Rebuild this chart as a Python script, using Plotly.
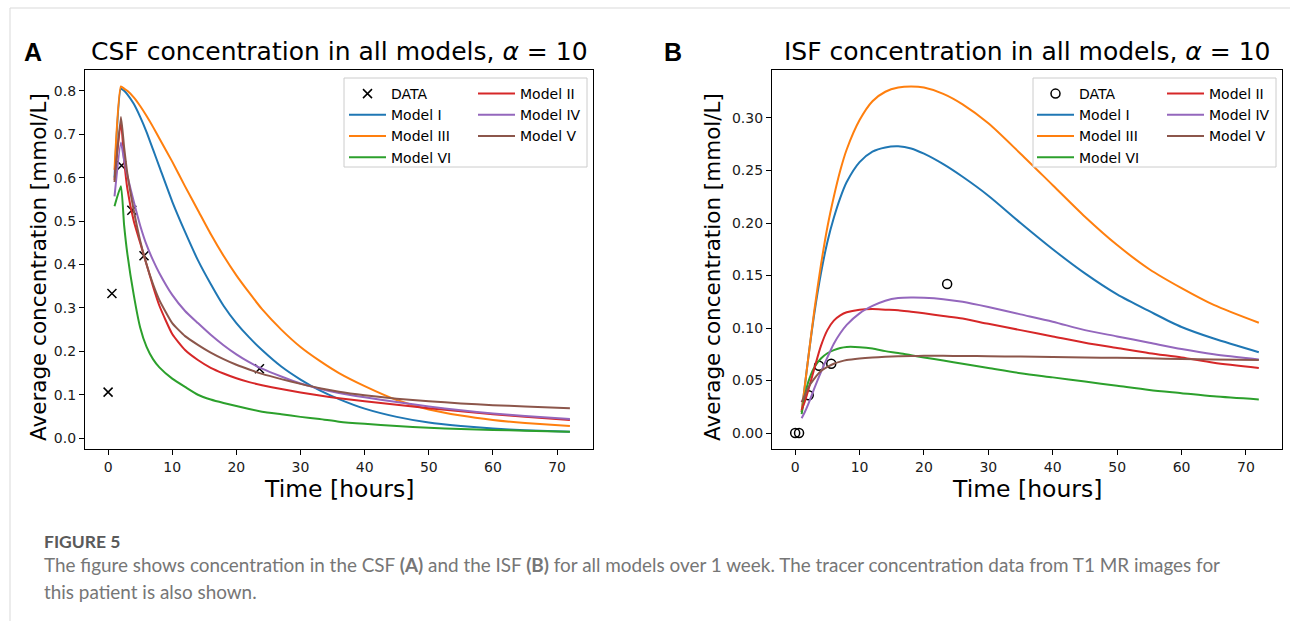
import plotly.graph_objects as go

W, H = 1290, 621

# ---------------- data ----------------
data_t = [0, 0.6, 2.1, 3.7, 5.6, 23.6]
csf_data = [0.106, 0.333, 0.628, 0.525, 0.420, 0.160]
isf_data = [0.0, 0.0, 0.036, 0.064, 0.066, 0.142]

tA = [1, 2, 2.5, 3, 4, 5, 6, 7, 8, 10, 12, 14, 16, 18, 20, 22, 24, 27, 30, 33, 36, 40, 45, 50, 55, 60, 65, 72]
csf_I   = [0.600, 0.805, 0.800, 0.792, 0.770, 0.740, 0.705, 0.665, 0.625, 0.545, 0.475, 0.410, 0.355, 0.305, 0.265, 0.232, 0.203, 0.165, 0.135, 0.110, 0.090, 0.068, 0.049, 0.036, 0.028, 0.022, 0.018, 0.015]
csf_III = [0.618, 0.810, 0.805, 0.800, 0.785, 0.765, 0.742, 0.717, 0.690, 0.637, 0.580, 0.525, 0.470, 0.420, 0.375, 0.335, 0.297, 0.250, 0.210, 0.178, 0.150, 0.120, 0.088, 0.066, 0.052, 0.042, 0.035, 0.028]
csf_VI  = [0.534, 0.580, 0.490, 0.425, 0.330, 0.255, 0.210, 0.182, 0.163, 0.137, 0.118, 0.100, 0.089, 0.081, 0.074, 0.067, 0.061, 0.055, 0.049, 0.044, 0.038, 0.033, 0.028, 0.024, 0.021, 0.019, 0.017, 0.015]
csf_II  = [0.595, 0.728, 0.640, 0.575, 0.500, 0.450, 0.400, 0.350, 0.305, 0.240, 0.203, 0.180, 0.162, 0.149, 0.138, 0.129, 0.122, 0.113, 0.105, 0.098, 0.092, 0.085, 0.077, 0.069, 0.062, 0.055, 0.049, 0.042]
csf_IV  = [0.557, 0.681, 0.640, 0.605, 0.545, 0.490, 0.445, 0.410, 0.380, 0.330, 0.293, 0.265, 0.238, 0.214, 0.193, 0.175, 0.160, 0.142, 0.126, 0.114, 0.104, 0.094, 0.083, 0.073, 0.064, 0.057, 0.051, 0.044]
csf_V   = [0.590, 0.740, 0.670, 0.610, 0.525, 0.455, 0.400, 0.355, 0.318, 0.265, 0.235, 0.215, 0.197, 0.182, 0.169, 0.158, 0.148, 0.136, 0.125, 0.115, 0.107, 0.099, 0.091, 0.085, 0.080, 0.076, 0.073, 0.069]

tB = [1, 1.5, 2, 3, 4, 5, 6, 7, 8, 10, 12, 14, 16, 18, 20, 23, 26, 30, 35, 40, 45, 50, 55, 60, 65, 72]
isf_I   = [0.020, 0.045, 0.070, 0.115, 0.152, 0.182, 0.205, 0.224, 0.239, 0.258, 0.268, 0.272, 0.273, 0.271, 0.266, 0.256, 0.244, 0.226, 0.200, 0.175, 0.152, 0.132, 0.116, 0.101, 0.090, 0.077]
isf_III = [0.020, 0.045, 0.070, 0.118, 0.160, 0.196, 0.225, 0.250, 0.270, 0.298, 0.316, 0.325, 0.329, 0.330, 0.329, 0.323, 0.313, 0.295, 0.266, 0.236, 0.206, 0.179, 0.156, 0.138, 0.122, 0.105]
isf_VI  = [0.018, 0.035, 0.048, 0.063, 0.071, 0.076, 0.079, 0.081, 0.082, 0.0818, 0.0805, 0.078, 0.0762, 0.074, 0.072, 0.069, 0.066, 0.062, 0.057, 0.053, 0.049, 0.045, 0.041, 0.038, 0.035, 0.032]
isf_II  = [0.022, 0.030, 0.040, 0.062, 0.083, 0.098, 0.107, 0.112, 0.115, 0.1175, 0.118, 0.1175, 0.117, 0.1155, 0.114, 0.1115, 0.109, 0.104, 0.098, 0.092, 0.086, 0.081, 0.076, 0.072, 0.067, 0.062]
isf_IV  = [0.014, 0.020, 0.027, 0.043, 0.058, 0.072, 0.085, 0.095, 0.103, 0.114, 0.121, 0.126, 0.1285, 0.129, 0.1288, 0.1275, 0.125, 0.120, 0.113, 0.106, 0.098, 0.092, 0.086, 0.080, 0.075, 0.070]
isf_V   = [0.0295, 0.036, 0.043, 0.052, 0.059, 0.063, 0.066, 0.068, 0.0695, 0.071, 0.072, 0.0727, 0.0732, 0.0734, 0.0735, 0.0735, 0.0734, 0.0732, 0.0728, 0.0724, 0.072, 0.0716, 0.0711, 0.0706, 0.0701, 0.0695]

x_ticks = [0, 10, 20, 30, 40, 50, 60, 70]

# ---------------- style ----------------
C = {"Model I": "#1f77b4", "Model III": "#ff7f0e", "Model VI": "#2ca02c",
     "Model II": "#d62728", "Model IV": "#9467bd", "Model V": "#8c564b"}
FONT = "DejaVu Sans"

def px_x(p):
    return p / W

def px_y(p):
    return 1 - p / H

fig = go.Figure()

# Panel A
fig.add_trace(go.Scatter(x=data_t, y=csf_data, mode="markers", name="DATA",
                         marker=dict(symbol="x-thin", size=9, color="black",
                                     line=dict(width=1.5, color="black")),
                         xaxis="x", yaxis="y", legend="legend"))
seriesA = [("Model I", csf_I, "legend"), ("Model III", csf_III, "legend"),
           ("Model VI", csf_VI, "legend"), ("Model II", csf_II, "legend2"),
           ("Model IV", csf_IV, "legend2"), ("Model V", csf_V, "legend2")]
for name, vals, lg in seriesA:
    fig.add_trace(go.Scatter(x=tA, y=vals, mode="lines", name=name,
                             line=dict(color=C[name], width=2, shape="spline", smoothing=0.5),
                             xaxis="x", yaxis="y", legend=lg))

# Panel B
fig.add_trace(go.Scatter(x=data_t, y=isf_data, mode="markers", name="DATA",
                         marker=dict(symbol="circle-open", size=9, color="black",
                                     line=dict(width=1.5, color="black")),
                         xaxis="x2", yaxis="y2", legend="legend3"))
seriesB = [("Model I", isf_I, "legend3"), ("Model III", isf_III, "legend3"),
           ("Model VI", isf_VI, "legend3"), ("Model II", isf_II, "legend4"),
           ("Model IV", isf_IV, "legend4"), ("Model V", isf_V, "legend4")]
for name, vals, lg in seriesB:
    fig.add_trace(go.Scatter(x=tB, y=vals, mode="lines", name=name,
                             line=dict(color=C[name], width=2, shape="spline", smoothing=0.8),
                             xaxis="x2", yaxis="y2", legend=lg))

axis_common = dict(showline=True, mirror=True, linecolor="black", linewidth=1.2,
                   ticks="outside", ticklen=5, tickwidth=1.2, tickcolor="black",
                   showgrid=False, zeroline=False,
                   tickfont=dict(family=FONT, size=14, color="#1a1a1a"))

ydom = [px_y(449), px_y(70)]

fig.update_layout(
    width=W, height=H,
    margin=dict(l=0, r=0, t=0, b=0),
    paper_bgcolor="white", plot_bgcolor="white",
    showlegend=True,
    xaxis=dict(domain=[px_x(85), px_x(593)], range=[-3.6, 75.6], tickvals=x_ticks,
               anchor="y", **axis_common),
    yaxis=dict(domain=ydom, range=[-0.025, 0.848], dtick=0.1, tick0=0, tickformat=".1f",
               anchor="x", **axis_common),
    xaxis2=dict(domain=[px_x(772), px_x(1282)], range=[-3.6, 75.6], tickvals=x_ticks,
                anchor="y2", **axis_common),
    yaxis2=dict(domain=ydom, range=[-0.0152, 0.3457], dtick=0.05, tick0=0, tickformat=".2f",
                anchor="x2", **axis_common),
)

leg_common = dict(bgcolor="rgba(0,0,0,0)", borderwidth=0, xanchor="left", yanchor="top",
                  font=dict(family=FONT, size=14, color="black"), tracegroupgap=0,
                  itemwidth=37, itemclick=False, itemdoubleclick=False)
fig.update_layout(
    legend=dict(x=px_x(344), y=px_y(78), **leg_common),
    legend2=dict(x=px_x(473), y=px_y(78), **leg_common),
    legend3=dict(x=px_x(1032), y=px_y(78), **leg_common),
    legend4=dict(x=px_x(1162), y=px_y(78), **leg_common),
)

shapes = [
    # legend frames
    dict(type="rect", xref="paper", yref="paper", x0=px_x(344), x1=px_x(587),
         y0=px_y(167), y1=px_y(78), line=dict(color="#cccccc", width=1),
         fillcolor="rgba(255,255,255,0.85)", layer="above"),
    dict(type="rect", xref="paper", yref="paper", x0=px_x(1033), x1=px_x(1276),
         y0=px_y(167), y1=px_y(78), line=dict(color="#cccccc", width=1),
         fillcolor="rgba(255,255,255,0.85)", layer="above"),
    # page border
    dict(type="line", xref="paper", yref="paper", x0=px_x(10), x1=px_x(10),
         y0=0, y1=px_y(8), line=dict(color="#d9d9d9", width=1)),
    dict(type="line", xref="paper", yref="paper", x0=px_x(10), x1=1,
         y0=px_y(8), y1=px_y(8), line=dict(color="#d9d9d9", width=1)),
]
fig.update_layout(shapes=shapes)

ann = []
title_font = dict(family=FONT, size=25, color="black")
ann.append(dict(text="CSF concentration in all models, <i>α</i> = 10", x=px_x(339), y=px_y(51),
                xref="paper", yref="paper", showarrow=False, xanchor="center", yanchor="middle",
                font=title_font))
ann.append(dict(text="ISF concentration in all models, <i>α</i> = 10", x=px_x(1027), y=px_y(51),
                xref="paper", yref="paper", showarrow=False, xanchor="center", yanchor="middle",
                font=title_font))
lab_font = dict(family="Liberation Sans", size=25, color="black")
ann.append(dict(text="<b>A</b>", x=px_x(33), y=px_y(52), xref="paper", yref="paper",
                showarrow=False, xanchor="center", yanchor="middle", font=lab_font))
ann.append(dict(text="<b>B</b>", x=px_x(673), y=px_y(52), xref="paper", yref="paper",
                showarrow=False, xanchor="center", yanchor="middle", font=lab_font))
axt_font = dict(family=FONT, size=21.5, color="black")
for xc in (38, 712):
    ann.append(dict(text="Average concentration [mmol/L]", x=px_x(xc), y=px_y(267),
                    xref="paper", yref="paper", showarrow=False, textangle=-90,
                    xanchor="center", yanchor="middle", font=axt_font))
xt_font = dict(family=FONT, size=23.5, color="black")
for xc in (339, 1027):
    ann.append(dict(text="Time [hours]", x=px_x(xc), y=px_y(489), xref="paper", yref="paper",
                    showarrow=False, xanchor="center", yanchor="middle", font=xt_font))
cap_font = dict(family="Lato", size=18.9, color="#767676")
ann.append(dict(text="<b>FIGURE 5</b>", x=px_x(42), y=px_y(541), xref="paper", yref="paper",
                showarrow=False, xanchor="left", yanchor="middle",
                font=dict(family="Lato", size=17.5, color="#5a5a5a")))
ann.append(dict(text="The figure shows concentration in the CSF <b>(A)</b> and the ISF <b>(B)</b> for all models over 1 week. The tracer concentration data from T1 MR images for",
                x=px_x(42), y=px_y(564), xref="paper", yref="paper",
                showarrow=False, xanchor="left", yanchor="middle", font=cap_font))
ann.append(dict(text="this patient is also shown.",
                x=px_x(42), y=px_y(591), xref="paper", yref="paper",
                showarrow=False, xanchor="left", yanchor="middle", font=cap_font))
fig.update_layout(annotations=ann)

fig.write_html("out.html", config={"displayModeBar": False},
               post_script="document.body.style.margin='0px';")
